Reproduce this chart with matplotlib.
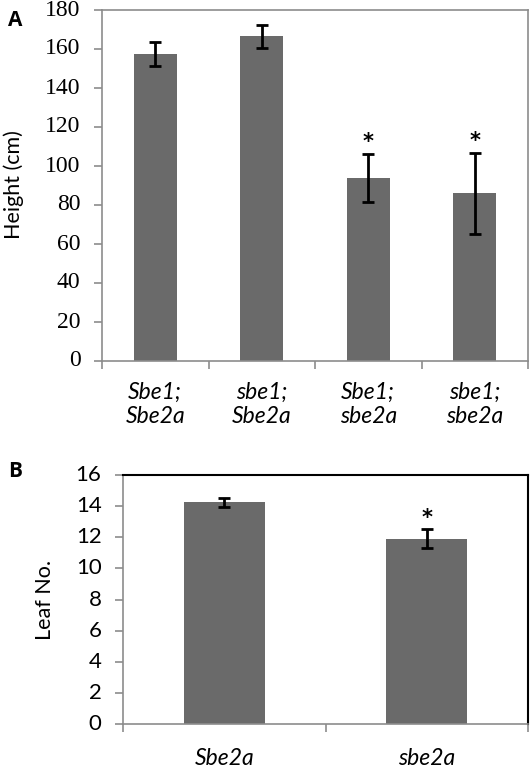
import numpy as np
import matplotlib
matplotlib.use('Agg')
import matplotlib.pyplot as plt
import matplotlib.transforms as mtrans

# panel A data
genotypes_a = ['Sbe1;\nSbe2a', 'sbe1;\nSbe2a', 'Sbe1;\nsbe2a', 'sbe1;\nsbe2a']
height = [157.5, 166.5, 93.8, 86.0]
height_err = [6.3, 5.8, 12.5, 20.8]
height_sig = [False, False, True, True]

# panel B data
genotypes_b = ['Sbe2a', 'sbe2a']
leaves = [14.25, 11.9]
leaves_err = [0.3, 0.6]
leaves_sig = [False, True]

bar_col = '#6a6a6a'
grey = '#8c8c8c'
sans = ['Lato', 'DejaVu Sans']

fig = plt.figure(figsize=(5.31, 7.72), dpi=100)
ax1 = fig.add_axes([102/531, 1-361/772, 426/531, 351/772])
ax2 = fig.add_axes([123/531, 1-724/772, 405/531, 249/772])


def draw(ax, labels, vals, errs, sig, ymax, step, tickfont, tickpt, labpad, edge):
    n = len(vals)
    x = np.arange(n) + 0.5
    ax.bar(x, vals, width=0.4, color=bar_col, zorder=2)
    ax.errorbar(x, vals, yerr=errs, fmt='none', ecolor='black',
                elinewidth=2, capsize=4, capthick=2, zorder=3)
    for xi, v, e, s in zip(x, vals, errs, sig):
        if s:
            ax.text(xi, v + e + ymax*0.006, '*', ha='center', va='bottom',
                    fontsize=15, fontweight='bold', fontfamily='DejaVu Sans')
    ax.set_xlim(0, n)
    ax.set_ylim(0, ymax)
    yt = np.arange(0, ymax + step/2, step)
    ax.set_yticks(yt)
    ax.tick_params(axis='y', length=6, width=1.2, color=grey, direction='out',
                   labelleft=False)
    # y tick labels drawn as text, shifted left of the spine
    trans = mtrans.blended_transform_factory(ax.transAxes, ax.transData)
    trans = trans + mtrans.ScaledTranslation(-15.5/72, 0, fig.dpi_scale_trans)
    for v in yt:
        ax.text(0, v, str(int(v)), transform=trans, ha='right', va='center',
                fontsize=tickpt, family=tickfont, clip_on=False)
    ax.set_xticks(np.arange(0, n + 1))
    ax.set_xticklabels([])
    ax.set_xticks(x, minor=True)
    ax.set_xticklabels(labels, minor=True, fontstyle='italic',
                       fontfamily=sans, fontsize=16.5, linespacing=1.2)
    ax.tick_params(axis='x', which='minor', length=0, pad=labpad)
    ax.tick_params(axis='x', which='major', length=6, width=1.2, color=grey, direction='out')
    ax.spines['left'].set_color(grey)
    ax.spines['bottom'].set_color(grey)
    ax.spines['left'].set_linewidth(1.2)
    ax.spines['bottom'].set_linewidth(1.2)
    for side in ['top', 'right']:
        ax.spines[side].set_color(edge)
        ax.spines[side].set_linewidth(1.2 if edge != 'black' else 1.5)


draw(ax1, genotypes_a, height, height_err, height_sig, 180, 20,
     'Liberation Serif', 17, 15, grey)
draw(ax2, genotypes_b, leaves, leaves_err, leaves_sig, 16, 2,
     'Lato', 16, 17, 'black')

fig.text(14/531, 1-185/772, 'Height (cm)', rotation=90, ha='center', va='center',
         fontsize=15.5, fontfamily=sans)
fig.text(45/531, 1-600/772, 'Leaf No.', rotation=90, ha='center', va='center',
         fontsize=15.5, fontfamily=sans)
fig.text(8/531, 1-20/772, 'A', fontsize=15, fontweight='bold', va='center',
         fontfamily=['Open Sans', 'DejaVu Sans'])
fig.text(8/531, 1-472/772, 'B', fontsize=15, fontweight='bold', va='center',
         fontfamily=['Open Sans', 'DejaVu Sans'])

plt.savefig('out.png', dpi=100)
